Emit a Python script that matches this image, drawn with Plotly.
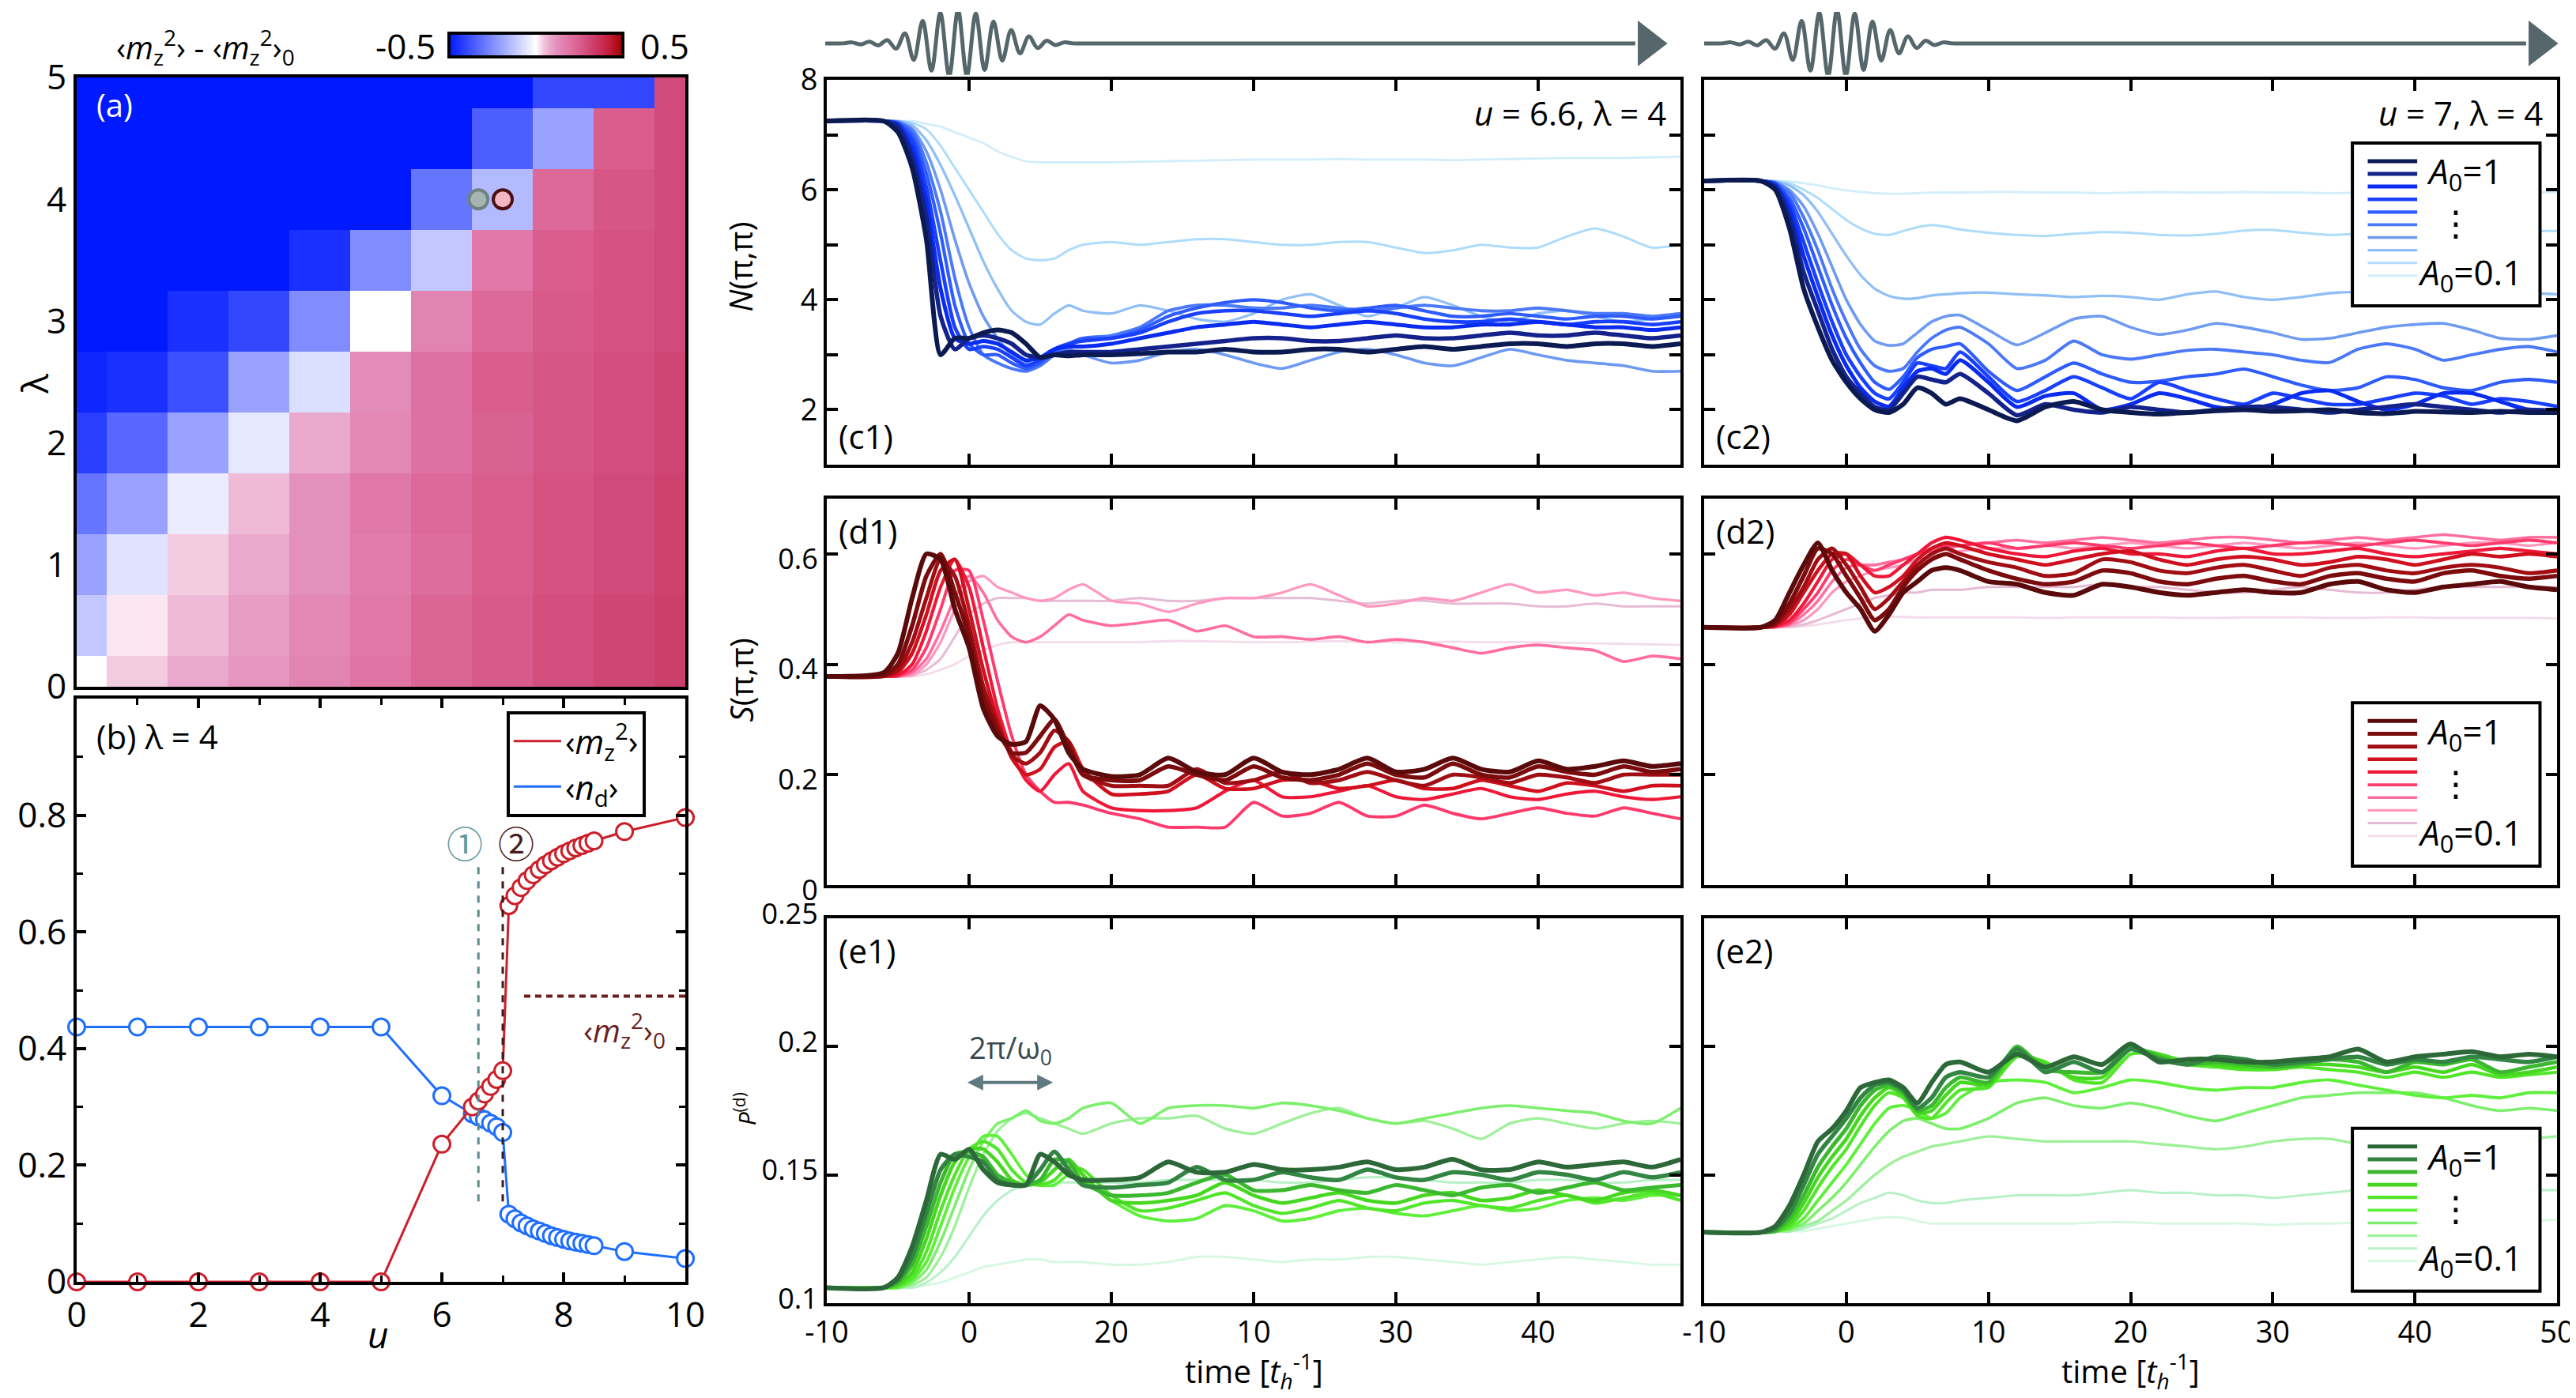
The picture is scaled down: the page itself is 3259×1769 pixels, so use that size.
import plotly.graph_objects as go

W, H = 3259, 1769

# (a) <m_z^2> - <m_z^2>_0 on the (u, lambda) grid, rows = lambda
u_grid = [0, 1, 2, 3, 4, 5, 6, 7, 8, 9, 10]
lam_grid = [0, 0.5, 1, 1.5, 2, 2.5, 3, 3.5, 4, 4.5, 5]
dm2 = [
    [0.0, 0.04, 0.08, 0.11, 0.15, 0.19, 0.23, 0.26, 0.29, 0.31, 0.33],
    [-0.12, 0.02, 0.06, 0.10, 0.14, 0.18, 0.23, 0.26, 0.29, 0.31, 0.33],
    [-0.2, -0.06, 0.04, 0.08, 0.12, 0.17, 0.21, 0.25, 0.28, 0.30, 0.32],
    [-0.3, -0.2, -0.04, 0.06, 0.12, 0.18, 0.22, 0.25, 0.28, 0.30, 0.32],
    [-0.42, -0.33, -0.2, -0.05, 0.08, 0.14, 0.2, 0.24, 0.27, 0.29, 0.31],
    [-0.47, -0.45, -0.38, -0.2, -0.07, 0.13, 0.2, 0.25, 0.27, 0.29, 0.31],
    [-0.5, -0.5, -0.45, -0.4, -0.25, 0.0, 0.15, 0.22, 0.26, 0.28, 0.3],
    [-0.5, -0.5, -0.5, -0.5, -0.45, -0.25, -0.12, 0.18, 0.25, 0.28, 0.3],
    [-0.5, -0.5, -0.5, -0.5, -0.5, -0.5, -0.3, -0.15, 0.22, 0.27, 0.3],
    [-0.5, -0.5, -0.5, -0.5, -0.5, -0.5, -0.5, -0.35, -0.2, 0.25, 0.3],
    [-0.5, -0.5, -0.5, -0.5, -0.5, -0.5, -0.5, -0.5, -0.4, -0.4, 0.3],
]

# (b) lambda = 4 cut
u_b = [0, 1, 2, 3, 4, 5, 6, 6.5, 6.6, 6.7, 6.8, 6.9, 7.0, 7.1, 7.2, 7.3, 7.4, 7.5,
       7.6, 7.7, 7.8, 7.9, 8.0, 8.1, 8.2, 8.3, 8.4, 8.5, 9, 10]
mz2_b = [0, 0, 0, 0, 0, 0, 0.236, 0.30, 0.31, 0.322, 0.335, 0.347, 0.362, 0.645, 0.662,
         0.676, 0.688, 0.698, 0.707, 0.715, 0.722, 0.728, 0.734, 0.739, 0.744, 0.748,
         0.752, 0.756, 0.772, 0.796]
nd_b = [0.437, 0.437, 0.437, 0.437, 0.437, 0.437, 0.319, 0.288, 0.283, 0.278, 0.272,
        0.266, 0.256, 0.116, 0.108, 0.101, 0.096, 0.091, 0.087, 0.083, 0.079, 0.076,
        0.073, 0.070, 0.068, 0.066, 0.064, 0.062, 0.052, 0.040]
lam_b = 4
u_marked = [6.6, 7.0]
mz2_0 = 0.49

# time evolution, A0 = 1 ... 0.1
t = [-10, -6, -5, -4, -3, -2, -1, 0, 1, 2, 3, 4, 5, 6, 7, 8, 10, 12, 14, 16, 18, 20,
     22, 24, 26, 28, 30, 32, 34, 36, 38, 40, 42, 44, 46, 48, 50]
A0 = [1.0, 0.9, 0.8, 0.7, 0.6, 0.5, 0.4, 0.3, 0.2, 0.1]

N_u66 = [
    [7.25, 7.25, 7.05, 6.4, 5.1, 3.0, 3.3, 3.3, 3.4, 3.45, 3.4, 3.2, 2.95, 3.0, 2.98, 3.0, 3.0, 3.02, 3.05, 3.05, 3.1, 3.05, 3.05, 3.1, 3.1, 3.05, 3.1, 3.15, 3.1, 3.15, 3.2, 3.2, 3.15, 3.2, 3.2, 3.15, 3.2],
    [7.25, 7.25, 7.15, 6.6, 5.5, 3.7, 3.1, 3.3, 3.35, 3.3, 3.2, 3.0, 2.95, 3.0, 3.05, 3.05, 3.05, 3.1, 3.15, 3.2, 3.25, 3.3, 3.3, 3.25, 3.25, 3.3, 3.35, 3.3, 3.3, 3.35, 3.4, 3.35, 3.35, 3.4, 3.35, 3.3, 3.35],
    [7.25, 7.25, 7.18, 6.75, 5.8, 4.2, 3.3, 3.2, 3.25, 3.2, 3.05, 2.9, 2.95, 3.1, 3.15, 3.15, 3.2, 3.3, 3.4, 3.5, 3.55, 3.6, 3.55, 3.5, 3.55, 3.6, 3.55, 3.5, 3.5, 3.55, 3.55, 3.6, 3.55, 3.5, 3.5, 3.45, 3.5],
    [7.25, 7.25, 7.2, 6.9, 6.05, 4.7, 3.5, 3.1, 3.15, 3.1, 2.95, 2.8, 2.9, 3.1, 3.2, 3.25, 3.3, 3.4, 3.6, 3.75, 3.8, 3.8, 3.75, 3.7, 3.75, 3.8, 3.75, 3.65, 3.6, 3.6, 3.65, 3.6, 3.55, 3.6, 3.6, 3.55, 3.6],
    [7.25, 7.25, 7.22, 7.0, 6.3, 5.2, 3.9, 3.2, 3.0, 3.0, 2.85, 2.75, 2.85, 3.05, 3.2, 3.3, 3.3, 3.45, 3.7, 3.85, 3.95, 4.0, 3.95, 3.85, 3.8, 3.85, 3.9, 3.8, 3.7, 3.7, 3.75, 3.7, 3.65, 3.7, 3.7, 3.65, 3.7],
    [7.25, 7.25, 7.23, 7.08, 6.5, 5.6, 4.4, 3.5, 3.0, 2.85, 2.75, 2.7, 2.8, 3.0, 3.15, 3.3, 3.35, 3.5, 3.8, 3.9, 3.9, 3.85, 3.85, 3.9, 3.85, 3.8, 3.85, 3.9, 3.85, 3.8, 3.8, 3.85, 3.8, 3.75, 3.75, 3.7, 3.75],
    [7.25, 7.25, 7.24, 7.12, 6.7, 6.0, 5.1, 4.3, 3.7, 3.3, 3.0, 2.85, 2.85, 3.05, 3.1, 3.0, 2.85, 2.9, 3.05, 3.1, 3.0, 2.85, 2.75, 2.9, 3.05, 3.1, 3.0, 2.85, 2.8, 2.95, 3.1, 3.0, 2.9, 2.85, 2.8, 2.7, 2.7],
    [7.25, 7.25, 7.25, 7.18, 6.9, 6.45, 5.9, 5.3, 4.7, 4.2, 3.8, 3.6, 3.55, 3.75, 3.9, 3.8, 3.75, 3.9, 3.8, 3.65, 3.6, 3.75, 4.0, 4.1, 3.9, 3.7, 3.85, 4.05, 3.9, 3.7, 3.6, 3.75, 3.8, 3.7, 3.6, 3.65, 3.7],
    [7.25, 7.25, 7.25, 7.22, 7.1, 6.8, 6.4, 6.0, 5.6, 5.2, 4.9, 4.75, 4.72, 4.75, 4.9, 5.0, 5.05, 5.0, 5.05, 5.1, 5.1, 5.05, 5.0, 5.0, 5.05, 5.05, 4.95, 4.85, 4.9, 5.0, 4.95, 4.95, 5.15, 5.3, 5.15, 4.95, 5.0],
    [7.25, 7.25, 7.25, 7.25, 7.2, 7.15, 7.05, 6.95, 6.85, 6.7, 6.6, 6.52, 6.5, 6.5, 6.5, 6.5, 6.5, 6.51, 6.52, 6.53, 6.54, 6.55, 6.55, 6.55, 6.56, 6.55, 6.55, 6.55, 6.54, 6.55, 6.56, 6.57, 6.58, 6.58, 6.58, 6.59, 6.6],
]
N_u7 = [
    [6.16, 6.16, 6.0, 5.3, 4.2, 3.5, 2.9, 2.5, 2.2, 2.0, 1.95, 2.1, 2.4, 2.3, 2.1, 2.2, 2.0, 1.8, 2.05, 2.15, 2.0, 1.95, 1.92, 1.95, 1.98, 2.0, 1.97, 1.98, 2.0, 1.95, 1.93, 1.97, 1.96, 1.95, 1.97, 1.95, 1.95],
    [6.16, 6.16, 6.05, 5.5, 4.5, 3.8, 3.1, 2.6, 2.3, 2.05, 2.0, 2.3, 2.6, 2.55, 2.5, 2.65, 2.3, 1.9, 2.1, 2.0, 1.95, 2.05, 2.0, 1.95, 2.0, 2.05, 2.05, 2.0, 1.95, 2.0, 2.05, 2.1, 2.05, 2.0, 1.95, 2.0, 1.97],
    [6.16, 6.16, 6.08, 5.65, 4.8, 4.05, 3.35, 2.8, 2.4, 2.15, 2.06, 2.4, 2.7, 2.75, 2.65, 2.9, 2.5, 2.05, 2.25, 2.3, 2.0, 2.1, 2.3, 2.2, 2.05, 2.0, 2.1, 2.3, 2.35, 2.15, 2.0, 2.1, 2.3, 2.3, 2.15, 2.0, 2.0],
    [6.16, 6.16, 6.1, 5.75, 5.05, 4.3, 3.6, 3.0, 2.6, 2.3, 2.2, 2.5, 2.85, 2.8, 2.75, 3.05, 2.6, 2.15, 2.35, 2.6, 2.4, 2.2, 2.5, 2.35, 2.2, 2.1, 2.3, 2.2, 2.1, 2.1, 2.2, 2.3, 2.25, 2.1, 2.2, 2.15, 2.06],
    [6.16, 6.16, 6.12, 5.85, 5.3, 4.6, 3.9, 3.3, 2.85, 2.5, 2.37, 2.6, 2.95, 3.1, 3.15, 3.2, 2.7, 2.35, 2.6, 2.85, 2.65, 2.5, 2.52, 2.6, 2.65, 2.74, 2.6, 2.45, 2.35, 2.4, 2.6, 2.55, 2.4, 2.35, 2.5, 2.55, 2.5],
    [6.16, 6.16, 6.13, 5.95, 5.5, 4.9, 4.2, 3.6, 3.1, 2.8, 2.7, 2.75, 3.05, 3.3, 3.45, 3.5, 3.2, 2.75, 2.9, 3.25, 3.0, 2.92, 3.0, 3.08, 3.1, 3.05, 3.0, 2.9, 2.86, 3.1, 3.2, 3.1, 2.9, 3.0, 3.1, 3.15, 3.05],
    [6.16, 6.16, 6.14, 6.0, 5.7, 5.2, 4.6, 4.0, 3.55, 3.25, 3.17, 3.2, 3.4, 3.6, 3.7, 3.72, 3.45, 3.18, 3.4, 3.65, 3.7, 3.5, 3.37, 3.45, 3.57, 3.5, 3.4, 3.28, 3.3, 3.4, 3.5, 3.55, 3.57, 3.45, 3.3, 3.28, 3.35],
    [6.16, 6.16, 6.15, 6.08, 5.9, 5.6, 5.2, 4.8, 4.45, 4.2, 4.07, 4.02, 4.03, 4.08, 4.1, 4.12, 4.13, 4.1, 4.08, 4.05, 4.07, 4.05, 4.0, 4.1, 4.15, 4.05, 4.0, 4.05, 4.12, 4.14, 4.1, 4.07, 4.08, 4.1, 4.1, 4.12, 4.1],
    [6.16, 6.16, 6.16, 6.12, 6.0, 5.85, 5.65, 5.45, 5.3, 5.2, 5.18, 5.25, 5.32, 5.36, 5.33, 5.28, 5.22, 5.18, 5.16, 5.2, 5.23, 5.22, 5.18, 5.17, 5.2, 5.26, 5.27, 5.22, 5.18, 5.2, 5.22, 5.25, 5.23, 5.22, 5.24, 5.25, 5.25],
    [6.16, 6.16, 6.16, 6.15, 6.12, 6.08, 6.03, 5.99, 5.96, 5.94, 5.93, 5.93, 5.94, 5.95, 5.95, 5.95, 5.96, 5.96, 5.95, 5.95, 5.94, 5.95, 5.96, 5.95, 5.95, 5.96, 5.95, 5.95, 5.94, 5.95, 5.96, 5.95, 5.95, 5.96, 5.95, 5.95, 5.96],
]
S_u66 = [
    [0.378, 0.385, 0.42, 0.52, 0.60, 0.59, 0.50, 0.43, 0.32, 0.27, 0.255, 0.26, 0.325, 0.3, 0.24, 0.21, 0.197, 0.20, 0.23, 0.205, 0.20, 0.23, 0.205, 0.20, 0.21, 0.23, 0.205, 0.21, 0.23, 0.21, 0.205, 0.225, 0.21, 0.215, 0.225, 0.215, 0.22],
    [0.378, 0.38, 0.40, 0.47, 0.56, 0.60, 0.53, 0.45, 0.34, 0.28, 0.24, 0.24, 0.27, 0.30, 0.25, 0.20, 0.19, 0.19, 0.215, 0.20, 0.19, 0.215, 0.195, 0.19, 0.2, 0.22, 0.2, 0.195, 0.22, 0.2, 0.195, 0.215, 0.205, 0.2, 0.215, 0.205, 0.21],
    [0.378, 0.379, 0.39, 0.44, 0.52, 0.59, 0.56, 0.47, 0.36, 0.29, 0.235, 0.22, 0.24, 0.28, 0.26, 0.2, 0.18, 0.18, 0.18, 0.21, 0.185, 0.19, 0.205, 0.185, 0.19, 0.205, 0.19, 0.18, 0.2, 0.195, 0.185, 0.2, 0.195, 0.185, 0.2, 0.2, 0.2],
    [0.378, 0.378, 0.385, 0.42, 0.49, 0.57, 0.59, 0.5, 0.39, 0.3, 0.23, 0.2, 0.21, 0.25, 0.26, 0.21, 0.165, 0.165, 0.17, 0.2, 0.175, 0.175, 0.19, 0.19, 0.175, 0.18, 0.19, 0.175, 0.175, 0.19, 0.18, 0.17, 0.185, 0.18, 0.17, 0.18, 0.18],
    [0.378, 0.378, 0.38, 0.4, 0.46, 0.54, 0.59, 0.54, 0.43, 0.32, 0.24, 0.19, 0.17, 0.2, 0.22, 0.17, 0.14, 0.135, 0.135, 0.14, 0.17, 0.19, 0.16, 0.16, 0.17, 0.18, 0.16, 0.155, 0.165, 0.175, 0.16, 0.155, 0.165, 0.17, 0.16, 0.155, 0.16],
    [0.378, 0.378, 0.379, 0.39, 0.43, 0.5, 0.57, 0.57, 0.48, 0.37, 0.27, 0.2, 0.17, 0.15, 0.15, 0.145, 0.13, 0.12, 0.105, 0.105, 0.105, 0.15, 0.125, 0.13, 0.15, 0.125, 0.125, 0.145, 0.13, 0.12, 0.13, 0.14, 0.13, 0.125, 0.14, 0.13, 0.12],
    [0.378, 0.378, 0.378, 0.385, 0.41, 0.46, 0.52, 0.56, 0.53, 0.48, 0.45, 0.44, 0.45, 0.47, 0.49, 0.48, 0.47, 0.475, 0.48, 0.46, 0.47, 0.45, 0.45, 0.445, 0.45, 0.44, 0.445, 0.44, 0.43, 0.42, 0.43, 0.435, 0.43, 0.425, 0.405, 0.415, 0.41],
    [0.378, 0.378, 0.378, 0.38, 0.4, 0.44, 0.5, 0.55, 0.56, 0.54, 0.53, 0.52, 0.515, 0.52, 0.535, 0.545, 0.515, 0.51, 0.495, 0.51, 0.52, 0.52, 0.53, 0.545, 0.525, 0.505, 0.51, 0.52, 0.515, 0.53, 0.545, 0.53, 0.535, 0.525, 0.53, 0.52, 0.515],
    [0.378, 0.378, 0.378, 0.38, 0.39, 0.41, 0.45, 0.49, 0.51, 0.52, 0.52, 0.52, 0.515, 0.515, 0.515, 0.515, 0.515, 0.52, 0.515, 0.515, 0.52, 0.52, 0.52, 0.52, 0.515, 0.51, 0.515, 0.515, 0.51, 0.51, 0.51, 0.505, 0.505, 0.51, 0.505, 0.505, 0.505],
    [0.378, 0.378, 0.378, 0.378, 0.382, 0.39, 0.4, 0.415, 0.425, 0.435, 0.44, 0.44, 0.44, 0.44, 0.44, 0.44, 0.44, 0.44, 0.442, 0.442, 0.441, 0.44, 0.44, 0.441, 0.442, 0.44, 0.44, 0.44, 0.441, 0.44, 0.44, 0.44, 0.439, 0.438, 0.437, 0.436, 0.435],
]
S_u7 = [
    [0.467, 0.467, 0.48, 0.53, 0.58, 0.62, 0.57, 0.53, 0.5, 0.46, 0.49, 0.53, 0.55, 0.57, 0.575, 0.57, 0.55, 0.545, 0.53, 0.525, 0.545, 0.54, 0.53, 0.525, 0.53, 0.535, 0.53, 0.53, 0.545, 0.55, 0.535, 0.53, 0.54, 0.545, 0.55, 0.54, 0.535],
    [0.467, 0.467, 0.475, 0.51, 0.56, 0.61, 0.6, 0.56, 0.52, 0.48, 0.5, 0.54, 0.57, 0.59, 0.6, 0.59, 0.57, 0.555, 0.545, 0.55, 0.57, 0.565, 0.55, 0.545, 0.555, 0.56, 0.55, 0.545, 0.56, 0.565, 0.555, 0.55, 0.565, 0.57, 0.56, 0.555, 0.56],
    [0.467, 0.467, 0.472, 0.5, 0.54, 0.59, 0.61, 0.58, 0.54, 0.5, 0.52, 0.55, 0.58, 0.6, 0.61, 0.6, 0.585, 0.575, 0.56, 0.565, 0.59, 0.585, 0.57, 0.565, 0.575, 0.58, 0.57, 0.56, 0.575, 0.58, 0.57, 0.565, 0.575, 0.58, 0.575, 0.565, 0.57],
    [0.467, 0.467, 0.47, 0.49, 0.53, 0.57, 0.6, 0.6, 0.56, 0.53, 0.54, 0.56, 0.59, 0.61, 0.62, 0.615, 0.6, 0.59, 0.58, 0.59, 0.6, 0.605, 0.59, 0.58, 0.59, 0.595, 0.59, 0.58, 0.585, 0.595, 0.59, 0.58, 0.59, 0.6, 0.595, 0.6, 0.595],
    [0.467, 0.467, 0.469, 0.48, 0.51, 0.55, 0.59, 0.6, 0.58, 0.56, 0.56, 0.58, 0.6, 0.62, 0.63, 0.625, 0.61, 0.6, 0.595, 0.605, 0.61, 0.6, 0.6, 0.595, 0.605, 0.61, 0.6, 0.6, 0.605, 0.61, 0.6, 0.595, 0.6, 0.605, 0.61, 0.605, 0.6],
    [0.467, 0.467, 0.468, 0.475, 0.5, 0.53, 0.57, 0.59, 0.58, 0.57, 0.58, 0.59, 0.6, 0.61, 0.615, 0.615, 0.62, 0.61, 0.615, 0.62, 0.615, 0.61, 0.615, 0.62, 0.615, 0.61, 0.615, 0.62, 0.62, 0.615, 0.62, 0.625, 0.62, 0.615, 0.62, 0.625, 0.62],
    [0.467, 0.467, 0.468, 0.472, 0.49, 0.515, 0.55, 0.575, 0.58, 0.58, 0.585, 0.59, 0.6, 0.605, 0.61, 0.615, 0.62, 0.625, 0.62, 0.625, 0.63, 0.625, 0.62, 0.625, 0.63, 0.63, 0.625, 0.62, 0.625, 0.63, 0.625, 0.63, 0.635, 0.63, 0.625, 0.63, 0.63],
    [0.467, 0.467, 0.467, 0.47, 0.48, 0.5, 0.53, 0.55, 0.56, 0.57, 0.575, 0.58, 0.59, 0.595, 0.6, 0.605, 0.61, 0.61, 0.615, 0.61, 0.615, 0.62, 0.615, 0.61, 0.615, 0.62, 0.615, 0.61, 0.615, 0.62, 0.615, 0.61, 0.615, 0.62, 0.62, 0.615, 0.62],
    [0.467, 0.467, 0.467, 0.468, 0.472, 0.48, 0.49, 0.5, 0.51, 0.52, 0.525, 0.53, 0.53, 0.535, 0.535, 0.535, 0.54, 0.54, 0.54, 0.54, 0.545, 0.54, 0.54, 0.535, 0.53, 0.53, 0.535, 0.54, 0.535, 0.53, 0.53, 0.535, 0.54, 0.54, 0.54, 0.54, 0.54],
    [0.467, 0.467, 0.467, 0.467, 0.469, 0.472, 0.476, 0.48, 0.483, 0.485, 0.486, 0.486, 0.485, 0.485, 0.485, 0.485, 0.485, 0.485, 0.484, 0.485, 0.485, 0.485, 0.485, 0.484, 0.484, 0.485, 0.485, 0.485, 0.484, 0.484, 0.485, 0.485, 0.484, 0.484, 0.484, 0.484, 0.483],
]
P_u66 = [
    [0.106, 0.106, 0.11, 0.122, 0.14, 0.158, 0.156, 0.16, 0.152, 0.147, 0.146, 0.146, 0.158, 0.155, 0.15, 0.148, 0.148, 0.149, 0.155, 0.151, 0.151, 0.154, 0.152, 0.152, 0.153, 0.155, 0.152, 0.153, 0.156, 0.152, 0.152, 0.155, 0.153, 0.154, 0.155, 0.153, 0.156],
    [0.106, 0.106, 0.109, 0.118, 0.135, 0.152, 0.158, 0.157, 0.155, 0.148, 0.146, 0.146, 0.152, 0.159, 0.152, 0.146, 0.145, 0.146, 0.147, 0.153, 0.148, 0.148, 0.151, 0.149, 0.148, 0.152, 0.149, 0.148, 0.151, 0.15, 0.148, 0.151, 0.15, 0.148, 0.151, 0.149, 0.151],
    [0.106, 0.106, 0.108, 0.115, 0.13, 0.147, 0.158, 0.159, 0.157, 0.15, 0.147, 0.146, 0.148, 0.156, 0.155, 0.147, 0.142, 0.142, 0.143, 0.147, 0.15, 0.144, 0.144, 0.146, 0.144, 0.143, 0.146, 0.144, 0.142, 0.145, 0.146, 0.143, 0.145, 0.147, 0.144, 0.145, 0.146],
    [0.106, 0.106, 0.107, 0.112, 0.125, 0.142, 0.155, 0.16, 0.16, 0.155, 0.148, 0.146, 0.147, 0.152, 0.156, 0.15, 0.14, 0.139, 0.14, 0.142, 0.147, 0.142, 0.139, 0.141, 0.143, 0.14, 0.139, 0.142, 0.143, 0.14, 0.141, 0.144, 0.142, 0.14, 0.143, 0.144, 0.142],
    [0.106, 0.106, 0.107, 0.11, 0.12, 0.136, 0.15, 0.16, 0.163, 0.16, 0.152, 0.147, 0.146, 0.148, 0.153, 0.152, 0.142, 0.136, 0.137, 0.14, 0.143, 0.138, 0.135, 0.137, 0.14, 0.137, 0.136, 0.139, 0.14, 0.138, 0.137, 0.14, 0.142, 0.139, 0.141, 0.143, 0.14],
    [0.106, 0.106, 0.106, 0.109, 0.116, 0.13, 0.145, 0.157, 0.165, 0.165, 0.158, 0.15, 0.146, 0.146, 0.15, 0.148, 0.14, 0.134, 0.132, 0.133, 0.138, 0.136, 0.132, 0.133, 0.136, 0.137, 0.135, 0.134, 0.136, 0.138, 0.136, 0.137, 0.14, 0.141, 0.14, 0.142, 0.142],
    [0.106, 0.106, 0.106, 0.108, 0.113, 0.124, 0.138, 0.152, 0.163, 0.17, 0.172, 0.175, 0.171, 0.17, 0.172, 0.176, 0.178, 0.17, 0.176, 0.177, 0.177, 0.176, 0.178, 0.177, 0.175, 0.172, 0.17, 0.172, 0.174, 0.176, 0.177, 0.176, 0.175, 0.174, 0.171, 0.17, 0.176],
    [0.106, 0.106, 0.106, 0.107, 0.11, 0.118, 0.13, 0.145, 0.158, 0.167, 0.172, 0.174, 0.172, 0.17, 0.168, 0.166, 0.17, 0.172, 0.172, 0.173, 0.168, 0.166, 0.17, 0.174, 0.176, 0.172, 0.17, 0.171, 0.168, 0.164, 0.17, 0.172, 0.17, 0.168, 0.17, 0.171, 0.17],
    [0.106, 0.106, 0.106, 0.106, 0.108, 0.112, 0.118, 0.126, 0.134, 0.14, 0.144, 0.146, 0.147, 0.147, 0.147, 0.147, 0.147, 0.147, 0.148, 0.148, 0.148, 0.148, 0.147, 0.147, 0.148, 0.149, 0.149, 0.148, 0.147, 0.147, 0.147, 0.148, 0.148, 0.147, 0.147, 0.148, 0.148],
    [0.106, 0.106, 0.106, 0.106, 0.107, 0.108, 0.11, 0.112, 0.114, 0.115, 0.116, 0.117, 0.117, 0.116, 0.116, 0.116, 0.115, 0.115, 0.116, 0.118, 0.118, 0.117, 0.116, 0.117, 0.117, 0.118, 0.118, 0.117, 0.116, 0.115, 0.116, 0.117, 0.118, 0.117, 0.116, 0.115, 0.115],
]
P_u7 = [
    [0.1276, 0.1276, 0.13, 0.138, 0.15, 0.163, 0.168, 0.175, 0.184, 0.186, 0.187, 0.184, 0.178, 0.186, 0.193, 0.194, 0.19, 0.197, 0.192, 0.196, 0.193, 0.201, 0.194, 0.195, 0.195, 0.194, 0.194, 0.195, 0.196, 0.199, 0.194, 0.196, 0.197, 0.198, 0.196, 0.197, 0.196],
    [0.1276, 0.1276, 0.129, 0.135, 0.146, 0.158, 0.165, 0.172, 0.18, 0.185, 0.186, 0.183, 0.176, 0.18, 0.188, 0.19, 0.188, 0.199, 0.19, 0.194, 0.19, 0.199, 0.195, 0.193, 0.196, 0.195, 0.193, 0.194, 0.195, 0.196, 0.193, 0.195, 0.194, 0.196, 0.195, 0.194, 0.196],
    [0.1276, 0.1276, 0.128, 0.133, 0.142, 0.153, 0.161, 0.168, 0.177, 0.183, 0.185, 0.182, 0.175, 0.177, 0.184, 0.188, 0.186, 0.2, 0.191, 0.19, 0.19, 0.2, 0.196, 0.193, 0.194, 0.193, 0.192, 0.193, 0.195, 0.194, 0.19, 0.194, 0.193, 0.195, 0.19, 0.192, 0.194],
    [0.1276, 0.1276, 0.128, 0.131, 0.139, 0.149, 0.157, 0.164, 0.173, 0.18, 0.184, 0.181, 0.174, 0.175, 0.181, 0.186, 0.185, 0.198, 0.193, 0.188, 0.188, 0.199, 0.197, 0.194, 0.193, 0.192, 0.192, 0.193, 0.193, 0.192, 0.19, 0.192, 0.19, 0.193, 0.189, 0.19, 0.192],
    [0.1276, 0.1276, 0.128, 0.13, 0.136, 0.145, 0.153, 0.16, 0.169, 0.177, 0.182, 0.18, 0.173, 0.172, 0.178, 0.183, 0.184, 0.196, 0.194, 0.187, 0.186, 0.197, 0.197, 0.193, 0.192, 0.191, 0.191, 0.192, 0.191, 0.19, 0.188, 0.19, 0.188, 0.19, 0.188, 0.189, 0.19],
    [0.1276, 0.1276, 0.128, 0.129, 0.133, 0.14, 0.147, 0.154, 0.162, 0.17, 0.176, 0.177, 0.175, 0.172, 0.174, 0.18, 0.186, 0.187, 0.186, 0.182, 0.184, 0.187, 0.186, 0.184, 0.183, 0.184, 0.184, 0.186, 0.187, 0.185, 0.183, 0.181, 0.18, 0.181, 0.18, 0.182, 0.182],
    [0.1276, 0.1276, 0.128, 0.129, 0.131, 0.136, 0.141, 0.147, 0.154, 0.161, 0.167, 0.171, 0.172, 0.17, 0.168, 0.168, 0.172, 0.178, 0.18, 0.177, 0.176, 0.178, 0.176, 0.173, 0.171, 0.174, 0.177, 0.18, 0.181, 0.182, 0.182, 0.182, 0.18, 0.177, 0.175, 0.176, 0.175],
    [0.1276, 0.1276, 0.128, 0.128, 0.13, 0.132, 0.136, 0.14, 0.145, 0.15, 0.154, 0.157, 0.159, 0.161, 0.162, 0.163, 0.165, 0.164, 0.163, 0.163, 0.163, 0.163, 0.162, 0.161, 0.16, 0.161, 0.163, 0.164, 0.164, 0.162, 0.161, 0.163, 0.164, 0.164, 0.163, 0.164, 0.165],
    [0.1276, 0.1276, 0.128, 0.128, 0.129, 0.131, 0.133, 0.136, 0.139, 0.141, 0.143, 0.142, 0.14, 0.139, 0.139, 0.14, 0.141, 0.142, 0.142, 0.142, 0.143, 0.144, 0.143, 0.143, 0.142, 0.142, 0.141, 0.142, 0.143, 0.144, 0.144, 0.143, 0.143, 0.143, 0.144, 0.144, 0.144],
    [0.1276, 0.1276, 0.128, 0.128, 0.128, 0.129, 0.13, 0.131, 0.132, 0.133, 0.1335, 0.1333, 0.132, 0.131, 0.131, 0.131, 0.131, 0.131, 0.131, 0.131, 0.1315, 0.1315, 0.131, 0.131, 0.131, 0.131, 0.1305, 0.131, 0.131, 0.1315, 0.132, 0.132, 0.132, 0.132, 0.132, 0.132, 0.1325],
]

# laser pulse sketch: successive extrema, half a period apart
pulse = [0, 0, 0, 0.03, -0.03, 0.05, -0.06, 0.1, -0.16, 0.3, -0.5, 0.68, -0.82, 0.92,
         -0.98, 1.0, -0.97, 0.9, -0.8, 0.66, -0.52, 0.4, -0.3, 0.21, -0.14, 0.08, -0.05,
         0.03, 0, 0]

# styles
blues = ['#0c1a52', '#14238c', '#0a2cf0', '#1a40ff', '#2f5cff', '#4a78f8', '#6e9af2', '#90bff6', '#aedcfb', '#d2eefc']
reds = ['#5a0a0a', '#7c0b0e', '#a00e14', '#d0101e', '#f01838', '#ff3a6c', '#ff6e9e', '#ff98c0', '#e6bcd4', '#f2dcea']
greens = ['#2c6838', '#338544', '#3cb830', '#46d820', '#52e62a', '#5ef03a', '#7cf06c', '#9ef09a', '#b8f0c8', '#d6f8e2']
widths = [6.0, 5.5, 5.0, 4.6, 4.2, 3.9, 3.6, 3.3, 3.0, 2.8]
RED, BLUE = '#cc1f2a', '#1e6eff'
FONT = '"Open Sans", "DejaVu Sans", sans-serif'
CIRC_FONT = '"Noto Sans CJK JP", "DejaVu Sans", sans-serif'

colorscale = [[0, '#0019ff'], [0.5, '#ffffff'], [0.54, '#f4cce0'], [0.58, '#eaa8cc'],
              [0.62, '#e490bc'], [0.68, '#e078a8'], [0.76, '#d85a8a'], [0.83, '#cc3e6c'],
              [0.92, '#c41e3a'], [1, '#9e0000']]

fig = go.Figure()

# (a)
fig.add_trace(go.Heatmap(
    x=u_grid, y=lam_grid, z=dm2, zmin=-0.5, zmax=0.5, colorscale=colorscale,
    xaxis='x', yaxis='y',
    colorbar=dict(orientation='h', x=0.2056, xanchor='center', y=0.9616, yanchor='bottom',
                  len=0.0675, lenmode='fraction', thickness=30, outlinewidth=4,
                  outlinecolor='black', showticklabels=False, ticks='', xpad=0, ypad=0)))
fig.add_trace(go.Scatter(
    x=u_marked, y=[lam_b, lam_b], mode='markers', xaxis='x', yaxis='y', showlegend=False,
    marker=dict(size=24, color=['#a6b4b2', '#f2b6c4'],
                line=dict(color=['#6f8180', '#4a0f12'], width=4))))

# (b)
for yv, c in [(nd_b, BLUE), (mz2_b, RED)]:
    fig.add_trace(go.Scatter(
        x=u_b, y=yv, mode='lines+markers', xaxis='x2', yaxis='y2', showlegend=False,
        cliponaxis=False, line=dict(color=c, width=3),
        marker=dict(size=21, color='white', line=dict(color=c, width=3))))
for name, c in [('‹<i>m</i><sub>z</sub><sup>2</sup>›', RED), ('‹<i>n</i><sub>d</sub>›', BLUE)]:
    fig.add_trace(go.Scatter(x=[None], y=[None], mode='lines', name=name, xaxis='x2',
                             yaxis='y2', line=dict(color=c, width=3)))

# (c)-(e)
panels = [(N_u66, blues, 'x3', 'y3'), (N_u7, blues, 'x4', 'y4'),
          (S_u66, reds, 'x5', 'y5'), (S_u7, reds, 'x6', 'y6'),
          (P_u66, greens, 'x7', 'y7'), (P_u7, greens, 'x8', 'y8')]
for data, cols, xa, ya in panels:
    for k in reversed(range(len(A0))):
        fig.add_trace(go.Scatter(
            x=t, y=data[k], mode='lines', xaxis=xa, yaxis=ya, showlegend=False,
            line=dict(color=cols[k], width=widths[k], shape='spline', smoothing=0.6)))

# pulse sketches above (c1) and (c2)
for xa, ya, shaft_end, head in [('x9', 'y9', 91.5, 92.9), ('x10', 'y10', 92.8, 94.2)]:
    fig.add_trace(go.Scatter(
        x=list(range(len(pulse))) + [shaft_end], y=pulse + [0], mode='lines',
        xaxis=xa, yaxis=ya, showlegend=False, cliponaxis=False,
        line=dict(color='#56676b', width=5, shape='spline', smoothing=1.0)))
    fig.add_trace(go.Scatter(
        x=[head], y=[0], mode='markers', xaxis=xa, yaxis=ya, showlegend=False,
        cliponaxis=False, marker=dict(symbol='triangle-right', size=50, color='#56676b')))


def framed(domain, anchor, **kw):
    d = dict(domain=domain, anchor=anchor, showline=True, linecolor='black', linewidth=4,
             mirror='ticks', ticks='inside', ticklen=14, tickwidth=4, tickcolor='black',
             showgrid=False, zeroline=False, automargin=False,
             tickfont=dict(size=38, color='black'))
    d.update(kw)
    return d


XA = [0.0273, 0.2636]
COL1, COL2 = [0.3185, 0.6499], [0.6591, 0.9902]
ROWC, ROWD, ROWE = [0.6721, 0.9474], [0.3714, 0.6478], [0.0724, 0.3477]
tvals = [-10, 0, 10, 20, 30, 40, 50]

layout = dict(
    width=W, height=H, autosize=False,
    margin=dict(l=0, r=0, t=0, b=0, pad=0, autoexpand=False),
    paper_bgcolor='white', plot_bgcolor='white',
    font=dict(family=FONT, color='black', size=40),
    xaxis=framed(XA, 'y', range=[0, 10], ticks='', showticklabels=False, mirror=True),
    yaxis=framed([0.5133, 0.9491], 'x', range=[0, 5], ticks='', mirror=True,
                 tickvals=[0, 1, 2, 3, 4, 5], tickfont=dict(size=44)),
    xaxis2=framed(XA, 'y2', range=[0, 10], tickvals=[0, 2, 4, 6, 8, 10], ticklen=12,
                  tickfont=dict(size=44),
                  minor=dict(dtick=1, tick0=0, ticks='inside', ticklen=8, tickwidth=3)),
    yaxis2=framed([0.0876, 0.5048], 'x2', range=[0, 1], tickvals=[0, 0.2, 0.4, 0.6, 0.8],
                  ticktext=['0', '0.2', '0.4', '0.6', '0.8'], ticklen=12,
                  tickfont=dict(size=44),
                  minor=dict(dtick=0.1, tick0=0, ticks='inside', ticklen=8, tickwidth=3)),
    xaxis3=framed(COL1, 'y3', range=[-10, 50], tickvals=tvals, showticklabels=False),
    yaxis3=framed(ROWC, 'x3', range=[1, 8], tickvals=[2, 4, 6, 8],
                  minor=dict(dtick=1, tick0=1, ticks='inside', ticklen=14, tickwidth=4)),
    xaxis4=framed(COL2, 'y4', range=[-10, 50], tickvals=tvals, showticklabels=False),
    yaxis4=framed(ROWC, 'x4', range=[1, 8], tickvals=[2, 4, 6, 8], showticklabels=False,
                  minor=dict(dtick=1, tick0=1, ticks='inside', ticklen=14, tickwidth=4)),
    xaxis5=framed(COL1, 'y5', range=[-10, 50], tickvals=tvals, showticklabels=False),
    yaxis5=framed(ROWD, 'x5', range=[0, 0.7], tickvals=[0, 0.2, 0.4, 0.6],
                  ticktext=['0', '0.2', '0.4', '0.6'], ticklabelshift=6,
                  tickfont=dict(size=36)),
    xaxis6=framed(COL2, 'y6', range=[-10, 50], tickvals=tvals, showticklabels=False),
    yaxis6=framed(ROWD, 'x6', range=[0, 0.7], tickvals=[0, 0.2, 0.4, 0.6],
                  showticklabels=False),
    xaxis7=framed(COL1, 'y7', range=[-10, 50], tickvals=tvals,
                  ticktext=['-10', '0', '20', '10', '30', '40', '']),
    yaxis7=framed(ROWE, 'x7', range=[0.1, 0.25], tickvals=[0.1, 0.15, 0.2, 0.25],
                  ticktext=['0.1', '0.15', '0.2', '0.25'], ticklabelshift=-6,
                  tickfont=dict(size=36)),
    xaxis8=framed(COL2, 'y8', range=[-10, 50], tickvals=tvals,
                  ticktext=['-10', '0', '10', '20', '30', '40', '50']),
    yaxis8=framed(ROWE, 'x8', range=[0.1, 0.25], tickvals=[0.1, 0.15, 0.2, 0.25],
                  showticklabels=False),
    xaxis9=dict(domain=[0.3179, 0.6444], anchor='y9', range=[0, 95], visible=False),
    yaxis9=dict(domain=[0.951, 0.996], anchor='x9', range=[-0.95, 0.95], visible=False),
    xaxis10=dict(domain=COL2, anchor='y10', range=[0, 96.3], visible=False),
    yaxis10=dict(domain=[0.951, 0.996], anchor='x10', range=[-0.95, 0.95], visible=False),
    legend=dict(x=0.1942, y=0.4958, xanchor='left', yanchor='top', bgcolor='white',
                bordercolor='black', borderwidth=4, font=dict(size=42),
                itemwidth=60, tracegroupgap=0),
)
fig.update_layout(**layout)

ann = []
shapes = []


def txt(text, x, y, xref='paper', yref='paper', size=40, color='black', family=FONT,
        xanchor='center', yanchor='middle', **kw):
    ann.append(dict(text=text, x=x, y=y, xref=xref, yref=yref, showarrow=False,
                    xanchor=xanchor, yanchor=yanchor,
                    font=dict(size=size, color=color, family=family), **kw))


# (a) labels and colour bar texts
txt('‹<i>m</i><sub>z</sub><sup>2</sup>› - ‹<i>m</i><sub>z</sub><sup>2</sup>›<sub>0</sub>',
    0.0774, 0.971, size=40)
txt('-0.5', 0.1672, 0.9715, size=44, xanchor='right')
txt('0.5', 0.2455, 0.9715, size=44, xanchor='left')
txt('(a)', 0.03, 0.955, 'x domain', 'y domain', size=40, color='white', xanchor='left')
txt('λ', 0.0105, 0.730, size=46, textangle=-90)

# (b) labels
txt('(b) λ = 4', 0.3, 0.935, 'x2', 'y2', size=42, xanchor='left')
txt('①', 6.37, 0.755, 'x2', 'y2', size=46, color='#5e9a9c', family=CIRC_FONT)
txt('②', 7.22, 0.755, 'x2', 'y2', size=46, color='#4a1e1e', family=CIRC_FONT)
txt('‹<i>m</i><sub>z</sub><sup>2</sup>›<sub>0</sub>', 9.0, 0.432, 'x2', 'y2', size=40,
    color='#6b1f1f')
txt('<i>u</i>', 0.1445, 0.0503, size=46)
for u0, c in zip(u_marked, ['#5e8a8c', '#3a1a1a']):
    shapes.append(dict(type='line', xref='x2', yref='y2', x0=u0, x1=u0, y0=0.138, y1=0.72,
                       line=dict(color=c, width=3, dash='dash')))
shapes.append(dict(type='line', xref='x2', yref='y2', x0=7.35, x1=10, y0=mz2_0, y1=mz2_0,
                   line=dict(color='#6b1f1f', width=4, dash='8px,6px')))

# (c)-(e) labels
txt('<i>u</i> = 6.6, λ = 4', 0.985, 0.915, 'x3 domain', 'y3 domain', size=42, xanchor='right')
txt('<i>u</i> = 7, λ = 4', 0.985, 0.915, 'x4 domain', 'y4 domain', size=42, xanchor='right')
for lab, xa, ya, yy in [('(c1)', 'x3', 'y3', 0.076), ('(c2)', 'x4', 'y4', 0.076),
                        ('(d1)', 'x5', 'y5', 0.918), ('(d2)', 'x6', 'y6', 0.918),
                        ('(e1)', 'x7', 'y7', 0.916), ('(e2)', 'x8', 'y8', 0.916)]:
    txt(lab, 0.012, yy, xa + ' domain', ya + ' domain', size=42, xanchor='left')
txt('<i>N</i>(π,π)', 0.285, 0.8135, size=40, textangle=-90)
txt('<i>S</i>(π,π)', 0.2853, 0.518, size=40, textangle=-90)
txt('<i>P</i><sup>(d)</sup>', 0.287, 0.2114, size=30, textangle=-90)
for xc in [sum(COL1) / 2, sum(COL2) / 2]:
    txt('time [<i>t</i><sub><i>h</i></sub><sup>-1</sup>]', xc, 0.024, size=40)

# period marker in (e1)
txt('2π/ω<sub>0</sub>', 2.9, 0.199, 'x7', 'y7', size=38, color='#3a4a50')
ann.append(dict(x=5.9, y=0.186, ax=-0.2, ay=0.186, xref='x7', yref='y7', axref='x7',
                ayref='y7', text='', showarrow=True, arrowhead=2, arrowside='end+start',
                arrowwidth=4, arrowsize=1, arrowcolor='#5f7a80'))


def amp_legend(xa, ya, top, cols):
    xr, yr = xa + ' domain', ya + ' domain'
    px = 1 / 487
    shapes.append(dict(type='rect', xref=xr, yref=yr, x0=0.76, x1=0.98, y0=top - 206 * px,
                       y1=top, line=dict(color='black', width=4), fillcolor='white'))
    for k, c in enumerate(cols):
        yk = top - (23 + 16.1 * k) * px
        shapes.append(dict(type='line', xref=xr, yref=yr, x0=0.778, x1=0.836, y0=yk, y1=yk,
                           line=dict(color=c, width=min(widths[k], 5))))
    txt('<i>A</i><sub>0</sub>=1', 0.845, top - 38 * px, xr, yr, size=44, xanchor='left')
    txt('⋮', 0.881, top - 100 * px, xr, yr, size=44)
    txt('<i>A</i><sub>0</sub>=0.1', 0.835, top - 166 * px, xr, yr, size=44, xanchor='left')


amp_legend('x4', 'y4', 0.836, blues)
amp_legend('x6', 'y6', 0.472, reds)
amp_legend('x8', 'y8', 0.454, greens)

fig.update_layout(annotations=ann, shapes=shapes)
fig.write_html("out.html")
